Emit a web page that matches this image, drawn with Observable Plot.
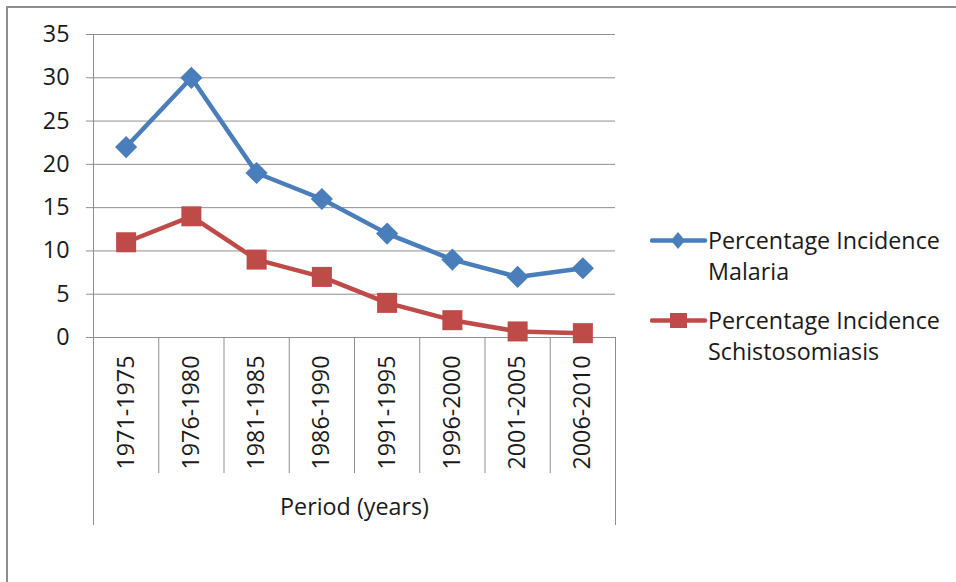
<!DOCTYPE html>
<html>
<head>
<meta charset="utf-8">
<script src="https://cdn.jsdelivr.net/npm/d3@7"></script>
<script src="https://cdn.jsdelivr.net/npm/@observablehq/plot@0.6"></script>
<style>
  html, body { margin: 0; padding: 0; background: #fff; }
  #wrap { position: relative; width: 956px; height: 582px; overflow: hidden; font-family: "Open Sans", sans-serif; }
  #chart { position: absolute; left: 0; top: 0; }
  #border { position: absolute; left: 6px; top: 6px; width: 960px; height: 600px; border-top: 2px solid #8e8e8e; border-left: 2px solid #8e8e8e; pointer-events: none; }
  #legend { position: absolute; left: 0; top: 0; }
  .item { position: absolute; }
  .item svg { position: absolute; left: 0; top: 0; }
  .item .txt { position: absolute; left: 58px; top: 0; font-size: 23.3px; line-height: 31px; color: #1a1a1a; white-space: nowrap; }
</style>
</head>
<body>
<div id="wrap">
  <div id="chart"></div>
  <div id="border"></div>
  <div id="legend"></div>
</div>
<script>
// ---- data ----
const periods = ["1971-1975", "1976-1980", "1981-1985", "1986-1990", "1991-1995", "1996-2000", "2001-2005", "2006-2010"];
const malaria = [22, 30, 19, 16, 12, 9, 7, 8];
const schisto = [11, 14, 9, 7, 4, 2, 0.7, 0.5];
const seriesNames = ["Percentage Incidence Malaria", "Percentage Incidence Schistosomiasis"];
const seriesColors = ["#4A7EBB", "#BE4B48"];
const yTicks = [0, 5, 10, 15, 20, 25, 30, 35];
const xTitle = "Period (years)";

// ---- table ----
const rows = [];
periods.forEach((p, i) => {
  rows.push({series: seriesNames[0], i, period: p, value: malaria[i]});
  rows.push({series: seriesNames[1], i, period: p, value: schisto[i]});
});
const malariaRows = rows.filter(d => d.series === seriesNames[0]);
const schistoRows = rows.filter(d => d.series === seriesNames[1]);
const idx = periods.map((p, i) => i);
const innerBounds = idx.slice(1).map(i => i - 0.5);
const outerBounds = [-0.5, periods.length - 0.5];

const grid = "#8e8e8e";
const fs = 23.3;

const chart = Plot.plot({
  width: 956,
  height: 582,
  marginLeft: 93,
  marginRight: 341,
  marginTop: 34,
  marginBottom: 245,
  style: {fontFamily: "Open Sans, sans-serif", fontSize: fs + "px", color: "#1a1a1a", background: "transparent"},
  x: {type: "linear", domain: [-0.5, periods.length - 0.5], axis: null},
  y: {domain: [0, 35], axis: null},
  marks: [
    Plot.gridY(yTicks, {stroke: grid, strokeOpacity: 1, strokeWidth: 1}),
    Plot.axisY(yTicks, {tickSize: 7, tickPadding: 17, stroke: grid, strokeOpacity: 1, label: null, fontSize: fs}),
    Plot.ruleX([-0.5], {stroke: grid, strokeWidth: 1}),
    Plot.axisX(innerBounds, {anchor: "bottom", tickSize: 136, tickFormat: () => "", stroke: grid, strokeOpacity: 1, label: null}),
    Plot.axisX(outerBounds, {anchor: "bottom", tickSize: 188, tickFormat: () => "", stroke: grid, strokeOpacity: 1, label: null}),
    Plot.text(periods, {x: (d, i) => i, text: d => d, frameAnchor: "bottom", dy: 18, rotate: -90, textAnchor: "end", lineAnchor: "middle", fontSize: fs, fill: "#1a1a1a"}),
    Plot.text([xTitle], {x: (periods.length - 1) / 2, text: d => d, frameAnchor: "bottom", dy: 170, textAnchor: "middle", lineAnchor: "middle", fontSize: fs, fill: "#1a1a1a"}),
    Plot.line(malariaRows, {x: "i", y: "value", stroke: seriesColors[0], strokeWidth: 4.5}),
    Plot.line(schistoRows, {x: "i", y: "value", stroke: seriesColors[1], strokeWidth: 4.5}),
    Plot.dot(malariaRows, {x: "i", y: "value", symbol: "diamond2", r: 10, fill: seriesColors[0], stroke: "none"}),
    Plot.dot(schistoRows, {x: "i", y: "value", symbol: "square", r: 11.3, fill: seriesColors[1], stroke: "none"})
  ]
});
document.getElementById("chart").appendChild(chart);

// ---- legend ----
const legend = document.getElementById("legend");
const legendTops = [225, 305];
const symbols = ["diamond", "square"];
seriesNames.forEach((name, k) => {
  const item = document.createElement("div");
  item.className = "item";
  item.style.left = "650px";
  item.style.top = legendTops[k] + "px";
  const c = seriesColors[k];
  const mk = symbols[k] === "diamond"
    ? `<path d="M28,7 L35,15.5 L28,24 L21,15.5 Z" fill="${c}"/>`
    : `<rect x="20" y="8" width="17" height="15" fill="${c}"/>`;
  item.innerHTML = `<svg width="58" height="31"><line x1="2" y1="15.5" x2="55" y2="15.5" stroke="${c}" stroke-width="4.5" stroke-linecap="round"/>${mk}</svg>`;
  const txt = document.createElement("div");
  txt.className = "txt";
  const cut = name.lastIndexOf(" ");
  txt.innerHTML = name.slice(0, cut) + "<br>" + name.slice(cut + 1);
  item.appendChild(txt);
  legend.appendChild(item);
});
</script>
</body>
</html>
